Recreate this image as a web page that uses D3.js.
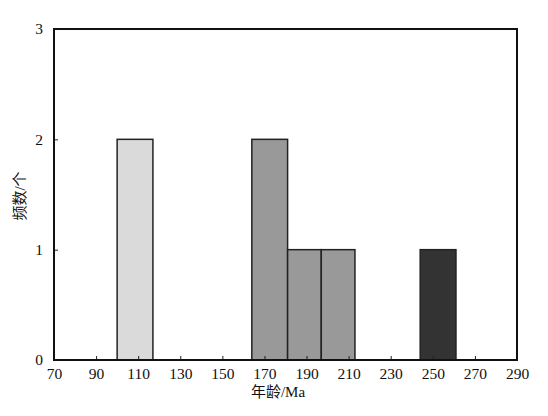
<!DOCTYPE html>
<html>
<head>
<meta charset="utf-8">
<script src="https://cdn.jsdelivr.net/npm/d3@7/dist/d3.min.js"></script>
<style>
  body { margin: 0; background: #fff; }
</style>
</head>
<body>
<div id="chart"></div>
<script>
// bins: age range start/end (Ma), count, fill group
var binStart = [100, 164, 181, 197, 244];
var binEnd   = [117, 181, 197, 213, 261];
var counts   = [2, 2, 1, 1, 1];
var fills    = ["#dadada", "#999999", "#999999", "#999999", "#333333"];
var xTicks = [70, 90, 110, 130, 150, 170, 190, 210, 230, 250, 270, 290];
var yTicks = [0, 1, 2, 3];

var serif = "Liberation Serif";
var cjk = "Liberation Serif, Noto Sans CJK SC";

function init() {
    var w = 548;
    var h = 416;
    var left = 54, right = 517, top = 29, bottom = 360;

    var svg = d3.select("#chart")
        .append("svg")
        .attr("width", w)
        .attr("height", h);

    var scaleX = d3.scaleLinear().domain([70, 290]).range([left, right]);
    var scaleY = d3.scaleLinear().domain([0, 3]).range([bottom, top]);

    // bars
    svg.selectAll("rect.bar")
        .data(counts)
        .enter()
        .append("rect")
        .attr("class", "bar")
        .attr("x", function (d, i) { return scaleX(binStart[i]); })
        .attr("y", function (d) { return scaleY(d); })
        .attr("width", function (d, i) { return scaleX(binEnd[i]) - scaleX(binStart[i]); })
        .attr("height", function (d) { return scaleY(0) - scaleY(d); })
        .attr("fill", function (d, i) { return fills[i]; })
        .attr("stroke", "#222")
        .attr("stroke-width", 1.5);

    // axes (ticks inward)
    var xAxis = d3.axisBottom(scaleX).tickValues(xTicks).tickFormat(d3.format("d"))
        .tickSizeInner(-4).tickSizeOuter(0).tickPadding(8);
    var gx = svg.append("g").attr("transform", "translate(0," + bottom + ")").call(xAxis)
        .attr("font-family", serif).attr("font-size", 15.5);
    gx.select(".domain").remove();
    gx.selectAll("line").attr("stroke", "#222");
    gx.selectAll("text").attr("fill", "#111");

    var yAxis = d3.axisLeft(scaleY).tickValues(yTicks).tickFormat(d3.format("d"))
        .tickSizeInner(-4).tickSizeOuter(0).tickPadding(11);
    var gy = svg.append("g").attr("transform", "translate(" + left + ",0)").call(yAxis)
        .attr("font-family", serif).attr("font-size", 15.5);
    gy.select(".domain").remove();
    gy.selectAll("line").attr("stroke", "#222");
    gy.selectAll("text").attr("fill", "#111");

    // frame
    svg.append("rect")
        .attr("x", left)
        .attr("y", top)
        .attr("width", right - left)
        .attr("height", bottom - top)
        .attr("fill", "none")
        .attr("stroke", "#111")
        .attr("stroke-width", 2);

    // axis titles
    svg.append("text")
        .attr("x", 278)
        .attr("y", 397)
        .attr("text-anchor", "middle")
        .attr("font-size", 15)
        .attr("font-family", cjk)
        .attr("fill", "#111")
        .text("年龄/Ma");

    svg.append("text")
        .attr("transform", "translate(25,196) rotate(-90)")
        .attr("text-anchor", "middle")
        .attr("font-size", 15)
        .attr("font-family", cjk)
        .attr("fill", "#111")
        .text("频数/个");
}

window.onload = init;
</script>
</body>
</html>
